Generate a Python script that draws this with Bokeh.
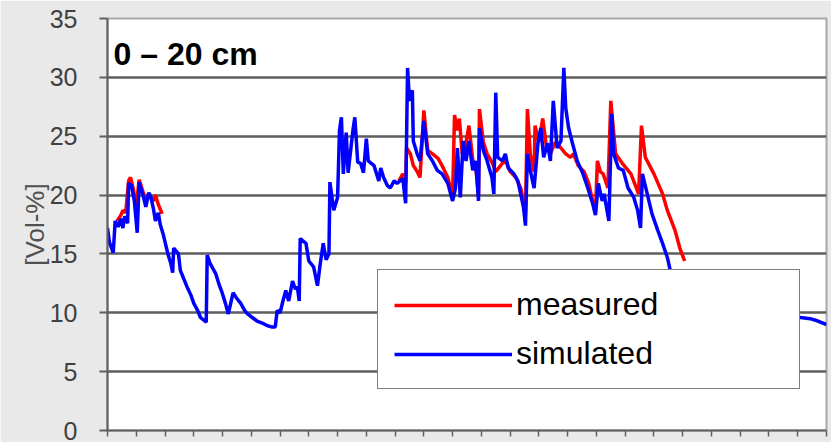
from bokeh.plotting import figure
from bokeh.models import (Range1d, FixedTicker, Legend, LegendItem, Label,
                          ColumnDataSource, CustomJSTickFormatter)
from bokeh.embed import file_html
from bokeh.resources import INLINE

NaN = float("nan")

# simulated soil water content (Vol-%), day index
sim_day = [0, 2, 6, 8, 11, 14, 16, 18, 21, 22,
           25, 28, 31, 33, 37, 40, 43, 45, 48, 50,
           53, 55, 58, 63, 66, 68, 69, 74, 76, 79,
           83, 87, 90, 94, 97, 103, 104, 107, 113, 116,
           120, 123, 126, 131, 135, 139, 143, 146, 151, 156,
           162, 167, 171, 175, 177, 180, 183, 186, 189, 193,
           196, 198, 200, 201, 207, 210, 215, 219, 222, 225,
           228, 231, 232, 236, 240, 242, 244, 246, 249, 251,
           256, 258, 261, 264, 267, 270, 272, 278, 283, 285,
           288, 292, 295, 299, 302, 308, 311, 313, 315, 318,
           319, 323, 326, 330, 334, 339, 344, 349, 355, 360,
           363, 365, 368, 371, 374, 377, 381, 384, 387, 388,
           392, 396, 401, 403, 405, 407, 412, 415, 418, 424,
           428, 431, 434, 436, 438, 441, 445, 449, 452, 455,
           459, 462, 465, 469, 473, 476, 478, 481, 485, 490,
           496, 501, 506, 509, 512, 516, 518, 523, 526, 528,
           533, 538, 543, 549, 553, 556, 558, 563, 568, 574,
           579, 584, 587, 608, 639, 671, 702, 723, 733, 741,
           750]
sim_vol = [17.2, 16.0, 15.1, 17.8, 17.3, 18.0, 17.2, 18.2, 17.6, 21.0,
           20.8, 19.5, 16.8, 21.1, 20.0, 19.0, 20.2, 19.9, 18.8, 17.8,
           18.5, 17.5, 16.7, 15.0, 14.2, 13.4, 15.5, 15.0, 13.6, 13.0,
           12.2, 11.5, 10.8, 10.2, 9.6, 9.2, 14.9, 14.2, 13.3, 12.5,
           11.6, 10.8, 9.9, 11.7, 11.2, 10.8, 10.2, 9.9, 9.6, 9.3,
           9.1, 8.9, 8.8, 8.8, 10.2, 10.0, 11.0, 11.9, 11.0, 12.7,
           12.0, 12.2, 11.0, 16.3, 15.9, 14.4, 13.9, 12.3, 14.2, 15.9,
           14.5, 15.0, 21.1, 18.7, 19.8, 25.5, 26.6, 21.8, 25.3, 21.9,
           25.5, 26.6, 22.8, 22.7, 21.9, 24.8, 22.9, 22.5, 21.2, 22.3,
           21.5, 20.8, 20.6, 21.2, 21.0, 21.4, 19.3, 30.8, 28.0, 28.9,
           24.6, 23.5, 22.9, 26.3, 23.5, 22.9, 22.1, 21.8, 21.0, 19.5,
           20.6, 24.0, 19.8, 24.6, 22.9, 24.6, 22.1, 22.9, 19.5, 25.7,
           23.8, 22.9, 21.5, 20.1, 28.7, 23.2, 22.9, 23.5, 22.3, 21.8,
           21.2, 20.1, 18.9, 17.4, 23.5, 22.1, 20.6, 24.4, 25.7, 23.2,
           24.4, 22.9, 28.0, 24.0, 24.6, 30.8, 27.4, 25.7, 24.4, 22.9,
           21.8, 20.6, 19.3, 18.3, 21.0, 19.5, 20.1, 17.8, 26.9, 23.5,
           22.3, 22.1, 20.6, 19.8, 18.7, 17.2, 21.8, 20.1, 18.4, 17.0,
           15.9, 14.7, 13.6, 12.5, 11.3, 10.5, 9.9, 9.6, 9.5, 9.3,
           9.0]

# measured soil water content (Vol-%), gap marked by NaN
meas_day = [10, 14, 16, 19, 22, 24, 27, 30, 33, 37,
            40, 42, 45, 48, 50, 53, 57, 60,
            304, 308, 311, 312, 316, 319, 323, 326, 330, 334,
            339, 345, 349, 355, 358, 360, 362, 365, 367, 370,
            373, 377, 381, 384, 387, 388, 392, 396, 401, 405,
            410, 415, 420, 426, 431, 434, 436, 438, 441, 445,
            446, 450, 454, 458, 462, 467, 473, 478, 483, 486,
            491, 497, 502, 506, 509, 511, 514, 517, 522, 525,
            530, 537, 546, 554, 557, 561, 570, 579, 584, 592,
            597, 602]
meas_vol = [17.8, 18.3, 18.7, 18.5, 21.2, 21.5, 20.5, 19.0, 21.3, 20.3,
            19.6, 20.0, 19.8, 19.5, 20.0, 19.2, 18.4, NaN,
            21.2, 21.8, 21.0, 24.0, 23.5, 22.5, 22.0, 21.5, 27.2, 23.8,
            23.5, 23.1, 22.5, 21.5, 20.5, 20.0, 26.8, 25.5, 26.5, 23.5,
            24.0, 25.9, 23.0, 22.5, 20.0, 27.3, 24.5, 23.5, 22.8, 22.0,
            22.5, 23.0, 22.0, 21.5, 20.6, 19.5, 18.5, 27.3, 23.5, 22.0,
            25.9, 24.5, 26.5, 24.0, 23.5, 24.5, 24.0, 23.5, 23.2, 23.5,
            22.5, 22.0, 21.0, 19.5, 18.5, 22.9, 22.0, 21.8, 20.6, 28.0,
            23.5, 22.7, 21.8, 20.1, 25.9, 23.2, 21.8, 20.1, 18.7, 17.0,
            15.5, 14.4]

y_ticks = [0, 5, 10, 15, 20, 25, 30, 35]
grid_ticks = [5, 10, 15, 20, 25, 30]
x_ticks = [0, 30, 60, 90, 120, 150, 180, 210, 240, 270, 300, 330, 360,
           390, 420, 450, 480, 510, 540, 570, 600, 630, 660, 690, 720, 750]

title_text = "0 \u2013 20 cm"
series_labels = ["measured", "simulated"]

FONT = "Liberation Sans"
AX = "#5f5f5f"

p = figure(width=831, height=442,
           x_range=Range1d(0, 750), y_range=Range1d(0, 35),
           output_backend="svg", toolbar_location=None,
           min_border_left=107, min_border_right=5,
           min_border_top=18, min_border_bottom=12,
           background_fill_color="white", border_fill_color="#e9e9e9",
           outline_line_color="#a8a8a8", outline_line_width=2)

p.xgrid.visible = False
p.ygrid.ticker = FixedTicker(ticks=grid_ticks)
p.ygrid.grid_line_color = "#5e5e5e"
p.ygrid.grid_line_width = 2.5

ya = p.yaxis[0]
ya.ticker = FixedTicker(ticks=y_ticks)
ya.axis_line_color = AX
ya.axis_line_width = 2
ya.major_tick_line_color = AX
ya.major_tick_line_width = 2
ya.major_tick_out = 8
ya.major_tick_in = 0
ya.minor_tick_line_color = None
ya.major_label_text_font = FONT
ya.major_label_text_font_size = "25px"
ya.major_label_text_color = "#404040"
ya.major_label_standoff = 22
ya.axis_label = "[Vol-%]"
ya.axis_label_text_font = FONT
ya.axis_label_text_font_size = "26px"
ya.axis_label_text_font_style = "normal"
ya.axis_label_text_color = "#505050"
ya.axis_label_standoff = -3

xa = p.xaxis[0]
xa.ticker = FixedTicker(ticks=x_ticks)
xa.formatter = CustomJSTickFormatter(code="return ''")
xa.axis_line_color = AX
xa.axis_line_width = 2
xa.major_tick_line_color = AX
xa.major_tick_line_width = 1.5
xa.major_tick_out = 6
xa.major_tick_in = 0
xa.minor_tick_line_color = None
xa.major_label_text_font_size = "1px"
xa.major_label_standoff = 0

meas_src = ColumnDataSource(dict(x=meas_day, y=meas_vol))
sim_src = ColumnDataSource(dict(x=sim_day, y=sim_vol))
r_meas = p.line("x", "y", source=meas_src, line_color="#ff0000", line_width=3.5)
r_sim = p.line("x", "y", source=sim_src, line_color="#0000ff", line_width=3.5)

legend = Legend(items=[LegendItem(label=series_labels[0], renderers=[r_meas]),
                       LegendItem(label=series_labels[1], renderers=[r_sim])],
                location=(270, 41), orientation="vertical", margin=0,
                padding=16, spacing=12,
                glyph_width=118, glyph_height=34,
                label_height=34, label_width=267, label_standoff=4,
                label_text_font=FONT, label_text_font_size="32px",
                label_text_color="black", label_text_baseline="middle",
                border_line_color="black", border_line_width=1.5,
                background_fill_color="white", background_fill_alpha=1.0)
p.add_layout(legend)

p.add_layout(Label(x=6.3, y=32.0, text=title_text, text_font=FONT,
                   text_font_style="bold", text_font_size="32px",
                   text_color="black", text_baseline="alphabetic"))

open("out.html", "w").write(file_html(p, INLINE))
